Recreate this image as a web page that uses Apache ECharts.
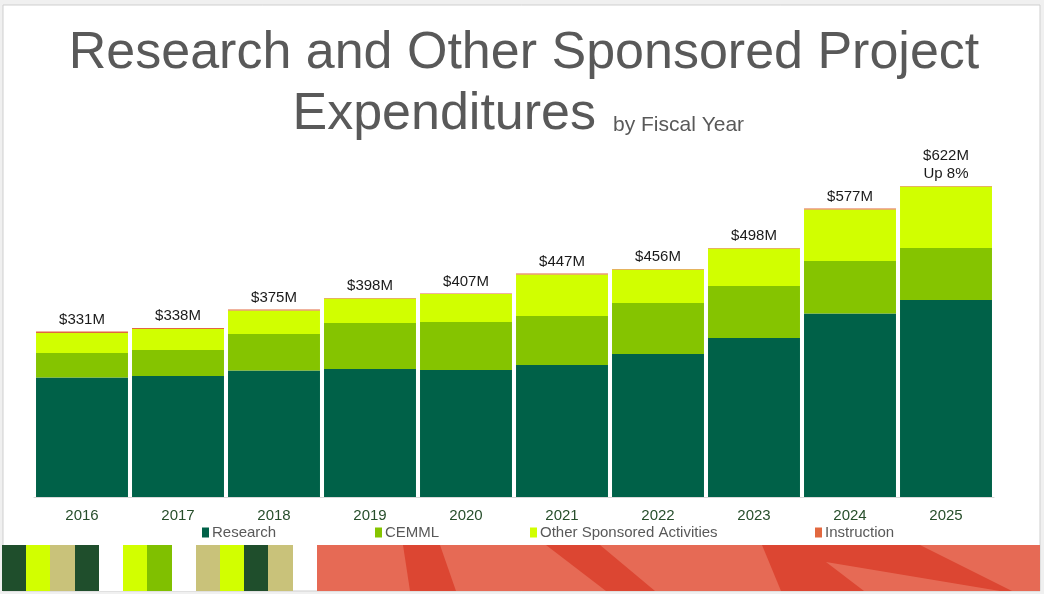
<!DOCTYPE html>
<html>
<head>
<meta charset="utf-8">
<style>
html,body{margin:0;padding:0;background:#f0f0f0;}
#chart{width:1044px;height:594px;}
</style>
<script src="https://cdn.jsdelivr.net/npm/echarts@6/dist/echarts.min.js"></script>
</head>
<body>
<div id="chart"></div>
<script>
// ---- data ----
var years = ['2016','2017','2018','2019','2020','2021','2022','2023','2024','2025'];
var research = [239, 242, 253, 256, 254, 264, 286, 318, 367, 394];
var cemml = [49, 52, 73, 92, 96, 98, 102, 104, 105, 104];
var otherSponsored = [40, 42, 47, 49, 56, 83, 67, 75, 103, 123];
var instruction = [3, 2, 2, 1, 1, 2, 1, 1, 2, 1];
var totalLabels = ['$331M','$338M','$375M','$398M','$407M','$447M','$456M','$498M','$577M','$622M\nUp 8%'];

var C_RESEARCH = '#006148', C_CEMML = '#85C400', C_OTHER = '#D1FF00', C_INSTR = '#E2683F';
var FONT = 'Liberation Sans, Arial, sans-serif';

var chart = echarts.init(document.getElementById('chart'));

function legendAt(name, left) {
  return {
    data: [name], left: left, top: 525, padding: 0,
    icon: 'rect', itemWidth: 7, itemHeight: 10, itemGap: 0,
    selectedMode: false,
    textStyle: { color: '#595959', fontSize: 15, fontFamily: FONT, padding: [0,0,0,-2] }
  };
}

var deco = [];
// frame
deco.push({ type: 'rect', shape: { x: 3, y: 5, width: 1037, height: 586 }, style: { fill: '#ffffff', stroke: '#cfcfcf', lineWidth: 1 }, z: -10 });
// left squares
var sq = [['#1f4e2c',2,26],['#d2ff00',26,50],['#c9c27a',50,75],['#1f4e2c',75,99],['#ffffff',99,123],['#d2ff00',123,147],['#80c000',147,172],['#ffffff',172,196],['#c9c27a',196,220],['#d2ff00',220,244],['#1f4e2c',244,268],['#c9c27a',268,293]];
sq.forEach(function (s) {
  deco.push({ type: 'rect', shape: { x: s[1], y: 545, width: s[2] - s[1], height: 46 }, style: { fill: s[0] }, z: -5 });
});
deco.push({ type: 'rect', shape: { x: 317, y: 545, width: 723, height: 46 }, style: { fill: '#e66a55' }, z: -5 });
deco.push({ type: 'polygon', shape: { points: [[403,545],[440,545],[456,591],[410,591]] }, style: { fill: '#dc4632' }, z: -4 });
deco.push({ type: 'polygon', shape: { points: [[546,545],[600,545],[655,591],[606,591]] }, style: { fill: '#dc4632' }, z: -4 });
deco.push({ type: 'polygon', shape: { points: [[762,545],[920,545],[1012,591],[781,591]] }, style: { fill: '#dc4632' }, z: -4 });
deco.push({ type: 'polygon', shape: { points: [[826,562],[864,591],[1000,591]] }, style: { fill: '#e66a55' }, z: -3 });
// titles
deco.push({ type: 'text', x: 524, y: 54, style: { text: 'Research and Other Sponsored Project', fill: '#595959', font: '52px ' + FONT, textAlign: 'center', textVerticalAlign: 'middle' } });
deco.push({ type: 'text', x: 596, y: 115, style: { text: 'Expenditures', fill: '#595959', font: '52px ' + FONT, textAlign: 'right', textVerticalAlign: 'middle' } });
deco.push({ type: 'text', x: 613, y: 125, style: { text: 'by Fiscal Year', fill: '#595959', font: '21px ' + FONT, textAlign: 'left', textVerticalAlign: 'middle' } });

chart.setOption({
  backgroundColor: '#f0f0f0',
  animation: false,
  graphic: deco,
  legend: [
    legendAt('Research', 202),
    legendAt('CEMML', 375),
    legendAt('Other Sponsored Activities', 530),
    legendAt('Instruction', 815)
  ],
  grid: { left: 34, width: 960, top: 147, height: 350 },
  xAxis: {
    type: 'category', data: years,
    axisLine: { lineStyle: { color: '#d9d9d9' } },
    axisTick: { show: false },
    axisLabel: { color: '#274e2b', fontSize: 15, fontFamily: FONT, margin: 11 }
  },
  yAxis: { type: 'value', min: 0, max: 700, show: false, splitLine: { show: false } },
  series: [
    { name: 'Research', type: 'bar', stack: 't', data: research, barCategoryGap: '4.2%', itemStyle: { color: C_RESEARCH } },
    { name: 'CEMML', type: 'bar', stack: 't', data: cemml, itemStyle: { color: C_CEMML } },
    { name: 'Other Sponsored Activities', type: 'bar', stack: 't', data: otherSponsored, itemStyle: { color: C_OTHER } },
    { name: 'Instruction', type: 'bar', stack: 't', data: instruction, itemStyle: { color: C_INSTR },
      label: { show: true, position: 'top', distance: 3, color: '#1a1a1a', fontSize: 15, lineHeight: 18, fontFamily: FONT,
        formatter: function (p) { return totalLabels[p.dataIndex]; } } }
  ]
});
</script>
</body>
</html>
